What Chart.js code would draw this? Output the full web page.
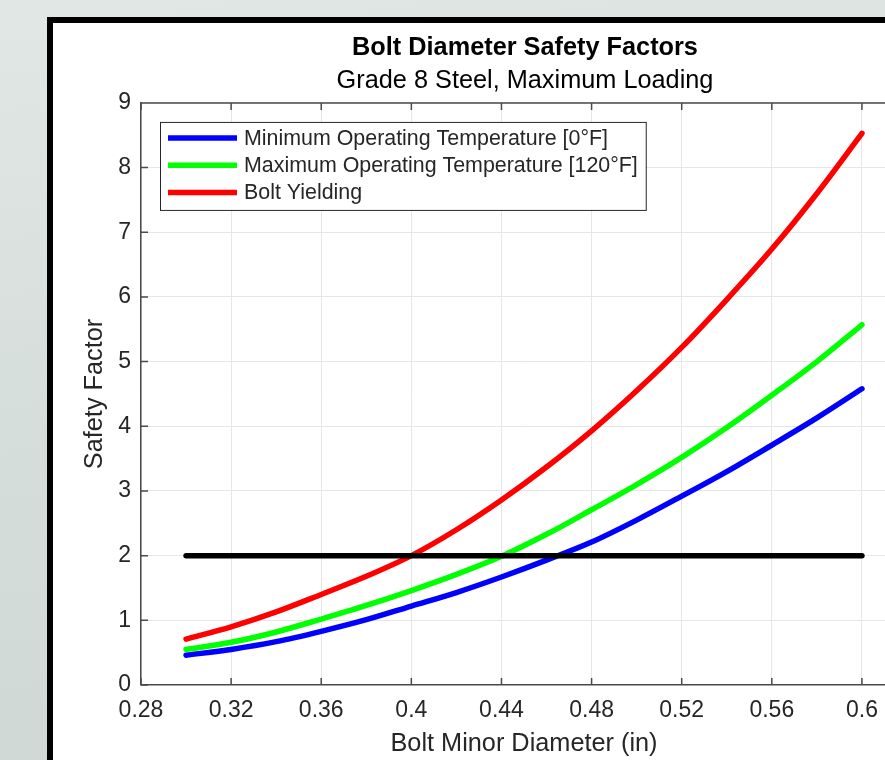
<!DOCTYPE html>
<html>
<head>
<meta charset="utf-8">
<title>Bolt Diameter Safety Factors</title>
<script src="https://cdn.jsdelivr.net/npm/chart.js@4.4.1/dist/chart.umd.min.js"></script>
<style>
  html, body { margin: 0; padding: 0; overflow: hidden; }
  body {
    width: 885px; height: 760px; position: relative;
    background: linear-gradient(170deg, #e1e7e5 0%, #d6dedb 45%, #cdd6d3 100%);
  }
  #frame {
    position: absolute; left: 47px; top: 17px; width: 1100px; height: 900px;
    background: #fff; border-left: 6px solid #000; border-top: 6px solid #000;
  }
  #wrap { position: absolute; left: 0; top: 0; width: 1050px; height: 760px; }
</style>
</head>
<body>
<div id="frame"></div>
<div id="wrap"><canvas id="chart"></canvas></div>
<script>
  // values
  const diameters = [0.30, 0.32, 0.34, 0.36, 0.38, 0.40, 0.42, 0.44, 0.46, 0.48, 0.50, 0.52, 0.54, 0.56, 0.58, 0.60];
  const minTempSF = [0.46, 0.55, 0.67, 0.83, 1.01, 1.22, 1.43, 1.67, 1.93, 2.21, 2.55, 2.92, 3.30, 3.71, 4.13, 4.58];
  const maxTempSF = [0.55, 0.66, 0.82, 1.02, 1.23, 1.46, 1.71, 1.99, 2.33, 2.71, 3.10, 3.52, 3.98, 4.48, 5.00, 5.57];
  const yieldSF   = [0.71, 0.90, 1.13, 1.40, 1.68, 2.00, 2.40, 2.86, 3.37, 3.93, 4.55, 5.22, 5.96, 6.74, 7.60, 8.53];
  const limitX  = [0.30, 0.60];
  const limitSF = [2, 2];

  const xTicks = [0.28, 0.32, 0.36, 0.40, 0.44, 0.48, 0.52, 0.56, 0.60];
  const xTickLabels = ['0.28', '0.32', '0.36', '0.4', '0.44', '0.48', '0.52', '0.56', '0.6'];
  const yTicks = [0, 1, 2, 3, 4, 5, 6, 7, 8, 9];

  const FONT = '"Liberation Sans", Arial, sans-serif';
  const TEXT = '#262626';
  const AXIS = '#4a4a4a';

  Chart.defaults.font.family = FONT;
  Chart.defaults.color = TEXT;

  const pts = (xs, ys) => xs.map((x, i) => ({ x: x, y: ys[i] }));

  function curve(label, values, color, order) {
    return {
      label: label,
      data: pts(diameters, values),
      borderColor: color,
      backgroundColor: color,
      borderWidth: 5.5,
      pointRadius: 0,
      cubicInterpolationMode: 'monotone',
      borderCapStyle: 'round',
      borderJoinStyle: 'round',
      inLegend: true,
      order: order
    };
  }

  // MATLAB style box with inward ticks
  const axesBox = {
    id: 'axesBox',
    beforeDatasetsDraw(chart) {
      const { ctx, chartArea: a, scales } = chart;
      ctx.save();
      ctx.strokeStyle = AXIS;
      ctx.lineWidth = 1.5;
      ctx.beginPath();
      ctx.moveTo(a.left, a.top);
      ctx.lineTo(a.right, a.top);
      xTicks.forEach(v => {
        const px = scales.x.getPixelForValue(v);
        ctx.moveTo(px, a.bottom); ctx.lineTo(px, a.bottom - 7);
        ctx.moveTo(px, a.top); ctx.lineTo(px, a.top + 7);
      });
      yTicks.forEach(v => {
        const py = scales.y.getPixelForValue(v);
        ctx.moveTo(a.left, py); ctx.lineTo(a.left + 7, py);
        ctx.moveTo(a.right, py); ctx.lineTo(a.right - 7, py);
      });
      ctx.stroke();
      ctx.restore();
    }
  };

  // legend box inside the top-left of the axes
  const boxLegend = {
    id: 'boxLegend',
    afterDatasetsDraw(chart) {
      const { ctx, chartArea: a } = chart;
      const items = chart.data.datasets.filter(d => d.inLegend);
      ctx.save();
      ctx.font = '21.4px ' + FONT;
      const textW = Math.max(...items.map(d => ctx.measureText(d.label).width));
      const left = a.left + 19, top = a.top + 19;
      const w = 84 + textW + 8, h = 88;
      ctx.fillStyle = '#fff';
      ctx.fillRect(left, top, w, h);
      ctx.strokeStyle = TEXT;
      ctx.lineWidth = 1;
      ctx.strokeRect(left + 0.5, top + 0.5, w, h);
      items.forEach((d, i) => {
        const y = top + 16 + i * 27.3;
        ctx.strokeStyle = d.borderColor;
        ctx.lineWidth = 5.5;
        ctx.beginPath();
        ctx.moveTo(left + 8, y);
        ctx.lineTo(left + 77, y);
        ctx.stroke();
        ctx.fillStyle = TEXT;
        ctx.textBaseline = 'middle';
        ctx.textAlign = 'left';
        ctx.fillText(d.label, left + 84, y + 1);
      });
      ctx.restore();
    }
  };

  new Chart(document.getElementById('chart'), {
    type: 'line',
    data: {
      datasets: [
        curve('Minimum Operating Temperature [0°F]', minTempSF, '#0000ff', 4),
        curve('Maximum Operating Temperature [120°F]', maxTempSF, '#00ff00', 3),
        curve('Bolt Yielding', yieldSF, '#ff0000', 2),
        {
          label: 'Limit',
          data: pts(limitX, limitSF),
          borderColor: '#000000',
          borderWidth: 5.5,
          pointRadius: 0,
          borderCapStyle: 'round',
          order: 1
        }
      ]
    },
    options: {
      responsive: true,
      maintainAspectRatio: false,
      animation: false,
      devicePixelRatio: 1,
      layout: { padding: 0 },
      scales: {
        x: {
          type: 'linear',
          min: 0.28,
          max: 0.62,
          afterBuildTicks: s => { s.ticks = xTicks.map(v => ({ value: v })); },
          afterFit: s => { s.height = 75; },
          grid: { color: '#e6e6e6', lineWidth: 1, drawTicks: false },
          border: { display: true, color: AXIS, width: 1.5 },
          ticks: {
            font: { size: 23 },
            color: TEXT,
            padding: 12,
            maxRotation: 0,
            autoSkip: false,
            callback: (v, i) => xTickLabels[i]
          },
          title: {
            display: true,
            text: 'Bolt Minor Diameter (in)',
            font: { size: 25.3, lineHeight: 1.1 },
            color: TEXT,
            padding: { top: 0, bottom: 2 }
          }
        },
        y: {
          min: 0,
          max: 9,
          afterBuildTicks: s => { s.ticks = yTicks.map(v => ({ value: v })); },
          afterFit: s => { s.width = 141; },
          grid: { color: '#e6e6e6', lineWidth: 1, drawTicks: false },
          border: { display: true, color: AXIS, width: 1.5 },
          ticks: { font: { size: 23 }, color: TEXT, padding: 10 },
          title: {
            display: true,
            text: 'Safety Factor',
            font: { size: 25.3 },
            color: TEXT,
            padding: { top: 80, bottom: 0 }
          }
        },
        yRight: {
          position: 'right',
          min: 0,
          max: 9,
          afterFit: s => { s.width = 143; },
          grid: { display: false, drawTicks: false },
          border: { display: true, color: AXIS, width: 1.5 },
          ticks: { display: false }
        }
      },
      plugins: {
        legend: { display: false },
        tooltip: { enabled: false },
        title: {
          display: true,
          text: 'Bolt Diameter Safety Factors',
          color: '#000',
          font: { size: 25.3, weight: 'bold' },
          padding: { top: 33, bottom: 0 }
        },
        subtitle: {
          display: true,
          text: 'Grade 8 Steel, Maximum Loading',
          color: '#000',
          font: { size: 25.3 },
          padding: { top: 2.7, bottom: 6.5 }
        }
      }
    },
    plugins: [axesBox, boxLegend]
  });
</script>
</body>
</html>
